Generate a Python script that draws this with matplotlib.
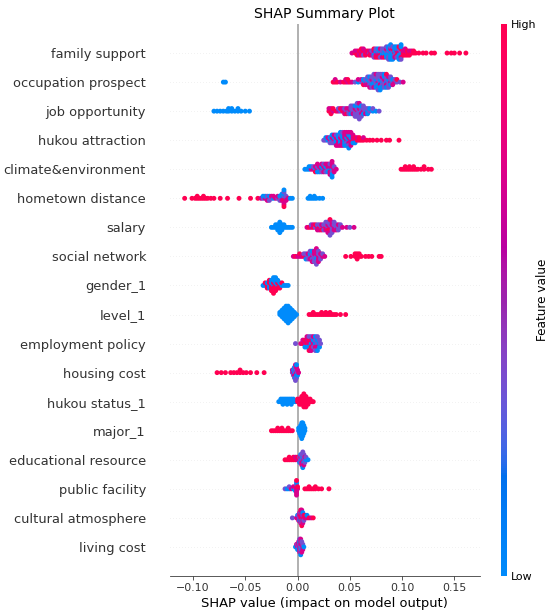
import numpy as np
import matplotlib
matplotlib.use("Agg")
import matplotlib.pyplot as plt
from matplotlib.colors import LinearSegmentedColormap
from matplotlib.cm import ScalarMappable

# ---------- DATA ----------
# features from top to bottom
features = [
    "family support", "occupation prospect", "job opportunity", "hukou attraction",
    "climate&environment", "hometown distance", "salary", "social network",
    "gender_1", "level_1", "employment policy", "housing cost", "hukou status_1",
    "major_1", "educational resource", "public facility", "cultural atmosphere",
    "living cost",
]

# (SHAP value, feature value of each sample at that value)
# b = low, p = mid-low, m = mid-high, r = high
family_support = [
    (0.052, "m"), (0.055, "rm"), (0.057, "rmr"), (0.059, "mrm"), (0.061, "rmrr"),
    (0.063, "mrpm"), (0.065, "rmr"), (0.067, "mr"), (0.069, "pmr"), (0.071, "rpm"),
    (0.073, "pmbrp"), (0.075, "pbmpr"), (0.077, "bpmbr"), (0.079, "pbrmp"),
    (0.081, "bpbpm"), (0.083, "pbbpr"), (0.085, "bpbmbp"), (0.087, "bpbbpbp"),
    (0.089, "pbbmbpbb"), (0.091, "bpbrbpb"), (0.093, "rbpbmb"), (0.095, "bmrbpb"),
    (0.097, "rmbpbrb"), (0.099, "bpbrmbpb"), (0.101, "rmr"), (0.103, "rmrm"),
    (0.105, "mrr"), (0.107, "rmr"), (0.109, "rm"), (0.111, "rr"), (0.113, "r"),
    (0.116, "r"), (0.120, "r"), (0.123, "r"), (0.128, "r"), (0.131, "r"),
    (0.143, "r"), (0.147, "r"), (0.150, "r"), (0.155, "r"), (0.161, "r"),
]
occupation_prospect = [
    (-0.071, "b"), (-0.069, "b"), (0.034, "r"), (0.036, "rm"), (0.038, "r"),
    (0.041, "m"), (0.044, "r"), (0.046, "rm"), (0.048, "mr"), (0.050, "r"),
    (0.052, "m"), (0.055, "p"), (0.058, "bm"), (0.061, "pm"), (0.063, "pbr"),
    (0.065, "bpm"), (0.067, "pbmp"), (0.069, "bppbm"), (0.071, "pmbpp"),
    (0.073, "bpbpmp"), (0.075, "pbppbm"), (0.077, "mpbpbpp"), (0.079, "pbmpbpb"),
    (0.081, "bppmbp"), (0.083, "pmpbpb"), (0.085, "bpmpbr"), (0.087, "pbpmp"),
    (0.089, "mpbp"), (0.091, "pbm"), (0.093, "mp"), (0.095, "pr"), (0.098, "p"),
    (0.101, "m"),
]
job_opportunity = [
    (-0.080, "b"), (-0.077, "b"), (-0.074, "b"), (-0.071, "b"), (-0.068, "b"),
    (-0.066, "bb"), (-0.063, "bb"), (-0.060, "b"), (-0.057, "bb"), (-0.054, "b"),
    (-0.050, "b"), (-0.046, "b"),
    (0.030, "rm"), (0.032, "rmr"), (0.034, "mr"), (0.037, "r"), (0.039, "mp"),
    (0.041, "pr"), (0.043, "rm"), (0.045, "mpm"), (0.047, "pmr"), (0.049, "pmp"),
    (0.051, "mpbp"), (0.053, "ppmp"), (0.055, "pmpbp"), (0.057, "mppbpp"),
    (0.059, "pmpbpmp"), (0.061, "ppmbp"), (0.063, "mpbp"), (0.065, "ppm"),
    (0.067, "bpb"), (0.069, "pb"), (0.072, "bp"), (0.075, "b"), (0.078, "p"),
]
hukou_attraction = [
    (0.025, "p"), (0.027, "pb"), (0.029, "bm"), (0.031, "mbp"), (0.033, "bmpb"),
    (0.035, "mbpm"), (0.037, "bmbpm"), (0.039, "mbmbm"), (0.041, "bmbpmb"),
    (0.043, "mbmbmp"), (0.045, "bmbmbm"), (0.047, "mbpmbm"), (0.049, "bmmbpmb"),
    (0.051, "mbmbmm"), (0.053, "rmbm"), (0.055, "mrb"), (0.057, "rm"), (0.059, "rr"),
    (0.061, "r"), (0.063, "rm"), (0.066, "r"), (0.069, "r"), (0.072, "r"),
    (0.076, "r"), (0.080, "r"), (0.085, "r"), (0.088, "r"), (0.097, "r"),
]
climate_environment = [
    (0.007, "b"), (0.009, "b"), (0.011, "bb"), (0.013, "mb"), (0.015, "mp"),
    (0.017, "bmr"), (0.019, "mpbm"), (0.021, "pmb"), (0.023, "mbpm"), (0.025, "bmmp"),
    (0.027, "mbpm"), (0.029, "pmbm"), (0.031, "bmmpm"), (0.033, "bmpmbmb"),
    (0.035, "mpm"), (0.037, "m"),
    (0.099, "r"), (0.101, "r"), (0.103, "rr"), (0.105, "r"), (0.107, "rr"),
    (0.109, "r"), (0.111, "rr"), (0.113, "r"), (0.115, "r"), (0.118, "r"),
    (0.121, "rr"), (0.125, "r"), (0.128, "r"),
]
hometown_distance = [
    (-0.108, "r"), (-0.101, "r"), (-0.098, "r"), (-0.096, "rr"), (-0.094, "r"),
    (-0.092, "r"), (-0.090, "rr"), (-0.088, "r"), (-0.086, "r"), (-0.083, "r"),
    (-0.080, "r"), (-0.074, "r"), (-0.067, "r"), (-0.056, "r"), (-0.045, "r"),
    (-0.038, "r"), (-0.035, "m"), (-0.033, "pb"), (-0.031, "mb"), (-0.029, "bpm"),
    (-0.027, "mbp"), (-0.025, "pm"), (-0.023, "bm"), (-0.021, "m"), (-0.019, "pm"),
    (-0.017, "mbp"), (-0.015, "pbmb"), (-0.013, "mprbmpmbr"), (-0.011, "bpm"),
    (-0.009, "m"), (-0.007, "b"), (-0.005, "b"),
    (0.010, "b"), (0.012, "bb"), (0.014, "b"), (0.016, "bb"), (0.018, "b"),
    (0.021, "b"), (0.024, "b"),
]
salary = [
    (-0.025, "b"), (-0.023, "b"), (-0.021, "bb"), (-0.019, "bbb"), (-0.017, "bbbbb"),
    (-0.015, "bbb"), (-0.013, "bb"), (-0.011, "b"), (-0.009, "b"), (-0.007, "b"),
    (-0.005, "b"),
    (0.009, "m"), (0.011, "r"), (0.013, "mp"), (0.015, "rm"), (0.017, "pr"),
    (0.019, "mpm"), (0.021, "rpm"), (0.023, "pmr"), (0.025, "mpp"), (0.027, "rpmp"),
    (0.029, "pmrpm"), (0.031, "mprpmrp"), (0.033, "pmpmp"), (0.035, "mpmp"),
    (0.037, "ppm"), (0.039, "pmp"), (0.041, "pp"), (0.043, "m"), (0.047, "m"),
    (0.050, "p"), (0.054, "m"),
]
social_network = [
    (-0.004, "m"), (-0.002, "r"), (0.000, "m"), (0.002, "mr"), (0.004, "m"),
    (0.006, "rp"), (0.008, "mpb"), (0.010, "pmp"), (0.012, "pbmp"), (0.014, "mppbm"),
    (0.016, "pmpmp"), (0.018, "pmbmpmp"), (0.020, "mpmpm"), (0.022, "pmp"),
    (0.024, "mp"), (0.026, "m"),
    (0.046, "r"), (0.051, "r"), (0.055, "rr"), (0.057, "rrr"), (0.059, "rr"),
    (0.061, "r"), (0.065, "r"), (0.068, "r"), (0.071, "r"), (0.078, "r"), (0.080, "r"),
]
gender_1 = [
    (-0.033, "b"), (-0.031, "br"), (-0.029, "rbr"), (-0.027, "brbr"), (-0.025, "rbrbr"),
    (-0.023, "brrbrbr"), (-0.021, "rbrbrb"), (-0.019, "brrb"), (-0.017, "rbr"),
    (-0.015, "br"), (-0.013, "b"), (-0.011, "b"), (-0.009, "b"),
]
level_1 = [
    (-0.017, "bb"), (-0.015, "bbbb"), (-0.013, "bbbbbb"), (-0.011, "bbbbbbbb"),
    (-0.009, "bbbbbbbbb"), (-0.007, "bbbbbbb"), (-0.005, "bbbbb"), (-0.003, "bbb"),
    (-0.001, "b"),
    (0.011, "r"), (0.013, "r"), (0.015, "rr"), (0.017, "r"), (0.019, "r"),
    (0.021, "r"), (0.023, "rr"), (0.025, "r"), (0.027, "rr"), (0.029, "r"),
    (0.031, "rr"), (0.033, "r"), (0.035, "r"), (0.037, "r"), (0.041, "r"), (0.046, "r"),
]
employment_policy = [
    (-0.002, "p"), (0.003, "m"), (0.005, "rm"), (0.007, "mrb"), (0.009, "rmbm"),
    (0.011, "mrbpr"), (0.013, "bmrpm"), (0.015, "mbpm"), (0.017, "bpmbp"),
    (0.019, "pbmpb"), (0.021, "bpb"), (0.022, "p"),
]
housing_cost = [
    (-0.077, "r"), (-0.073, "r"), (-0.069, "r"), (-0.064, "r"), (-0.061, "r"),
    (-0.058, "r"), (-0.055, "rr"), (-0.052, "r"), (-0.049, "r"), (-0.045, "r"),
    (-0.039, "r"), (-0.032, "r"),
    (-0.005, "pm"), (-0.004, "mbp"), (-0.003, "bpmbp"), (-0.002, "pbmpbmp"),
    (-0.001, "mpbmpb"), (0.000, "pmb"), (0.001, "m"),
]
hukou_status_1 = [
    (-0.018, "b"), (-0.016, "bb"), (-0.014, "bbb"), (-0.012, "bb"), (-0.010, "bbb"),
    (-0.008, "bb"), (-0.006, "bbb"), (-0.004, "bb"), (-0.002, "b"),
    (0.000, "rr"), (0.002, "rrr"), (0.004, "rrrr"), (0.006, "rrrrrr"),
    (0.008, "rrrrr"), (0.010, "rrr"), (0.012, "rr"), (0.014, "r"), (0.015, "r"),
]
major_1 = [
    (-0.025, "r"), (-0.023, "r"), (-0.021, "r"), (-0.019, "rr"), (-0.017, "r"),
    (-0.015, "rr"), (-0.013, "r"), (-0.011, "r"), (-0.009, "rr"), (-0.007, "r"),
    (-0.005, "r"),
    (0.001, "bb"), (0.002, "bbb"), (0.003, "bbbbb"), (0.004, "bbbbbbb"),
    (0.005, "bbbbbb"), (0.006, "bbbb"), (0.007, "bb"),
]
educational_resource = [
    (-0.012, "r"), (-0.010, "r"), (-0.008, "rr"), (-0.006, "r"), (-0.004, "rr"),
    (-0.002, "rm"), (0.000, "mr"), (0.002, "mpb"), (0.003, "pmpb"), (0.004, "bpmpm"),
    (0.005, "pbmpmpb"), (0.006, "mpbpm"), (0.007, "pmp"), (0.008, "bp"), (0.010, "b"),
]
public_facility = [
    (-0.012, "p"), (-0.010, "b"), (-0.008, "bp"), (-0.006, "m"), (-0.004, "bm"),
    (-0.002, "pmb"), (-0.001, "mrmpmbmr"), (0.000, "mr"),
    (0.007, "r"), (0.009, "r"), (0.011, "rr"), (0.013, "r"), (0.015, "r"),
    (0.017, "rr"), (0.020, "r"), (0.023, "r"), (0.030, "r"),
]
cultural_atmosphere = [
    (-0.005, "p"), (-0.001, "m"), (0.000, "mb"), (0.001, "mpm"), (0.002, "pmbm"),
    (0.003, "mrmpmr"), (0.004, "rmbmpmr"), (0.005, "mpmbm"), (0.006, "rmp"),
    (0.007, "mr"), (0.009, "mb"), (0.011, "r"), (0.013, "m"), (0.015, "r"),
]
living_cost = [
    (-0.002, "b"), (-0.001, "bm"), (0.000, "mpb"), (0.001, "pmbm"), (0.002, "mpmbmp"),
    (0.003, "bmpmpmb"), (0.004, "pmbpm"), (0.005, "mpm"), (0.006, "b"),
]

rows = [
    family_support, occupation_prospect, job_opportunity, hukou_attraction,
    climate_environment, hometown_distance, salary, social_network, gender_1,
    level_1, employment_policy, housing_cost, hukou_status_1, major_1,
    educational_resource, public_facility, cultural_atmosphere, living_cost,
]

feature_level = {"b": 0.0, "p": 0.35, "m": 0.72, "r": 1.0}


# ---------- SHAP red_blue COLORMAP ----------

def lch2rgb(l, c, h):
    a, b = c * np.cos(h), c * np.sin(h)
    fy = (l + 16) / 116
    fx, fz = fy + a / 500, fy - b / 200
    finv = lambda t: t ** 3 if t > 6 / 29 else 3 * (6 / 29) ** 2 * (t - 4 / 29)
    xyz = np.array([0.95047 * finv(fx), finv(fy), 1.08883 * finv(fz)])
    m = np.array([[3.2406, -1.5372, -0.4986],
                  [-0.9689, 1.8758, 0.0415],
                  [0.0557, -0.2040, 1.0570]])
    rgb = m @ xyz
    rgb = np.where(rgb > 0.0031308, 1.055 * np.abs(rgb) ** (1 / 2.4) - 0.055, 12.92 * rgb)
    return np.clip(rgb, 0, 1)


nsteps = 100
l_vals = list(np.linspace(54, 40, nsteps // 2)) + list(np.linspace(40, 54, nsteps // 2))
c_vals = np.linspace(70, 90, nsteps)
h_vals = np.linspace(4.6588, 0.35470565 + 2 * np.pi, nsteps)
red_blue = LinearSegmentedColormap.from_list(
    "red_blue", [lch2rgb(l, c, h) for l, c, h in zip(l_vals, c_vals, h_vals)])


# ---------- BEESWARM OFFSETS (same binning as shap) ----------

def swarm_offsets(shaps, nbins=100, row_height=0.4):
    quant = np.round(nbins * (shaps - shaps.min()) / (shaps.max() - shaps.min() + 1e-8))
    inds = np.argsort(quant, kind="stable")
    ys = np.zeros(len(shaps))
    layer, last_bin = 0, -1
    for ind in inds:
        if quant[ind] != last_bin:
            layer = 0
        ys[ind] = np.ceil(layer / 2) * ((layer % 2) * 2 - 1)
        layer += 1
        last_bin = quant[ind]
    ys *= 0.9 * (row_height / np.max(ys + 1))
    return ys


# ---------- PLOT ----------

fig = plt.figure(figsize=(550 / 72, 616 / 72), dpi=72)
ax = fig.add_axes([169.5 / 550, 40 / 616, 310.5 / 550, 552 / 616])

n = len(features)
ax.axvline(x=0, color="#999999", zorder=-1)
for i, row in enumerate(rows):
    pos = n - 1 - i
    ax.axhline(y=pos, color="#cccccc", lw=0.5, dashes=(1, 5), zorder=-1)
    shaps = np.array([x for x, s in row for _ in s])
    vals = np.array([feature_level[ch] for _, s in row for ch in s])
    ys = swarm_offsets(shaps)
    ax.scatter(shaps, pos + ys, c=vals, cmap=red_blue, vmin=0, vmax=1,
               s=24, alpha=1, linewidth=0, zorder=3, rasterized=True)

axis_color = "#333333"
ax.set_xlim(-0.1225, 0.1745)
ax.set_ylim(-1, n)
ax.set_yticks(range(n))
ax.set_yticklabels(features[::-1], fontsize=13)
ax.xaxis.set_ticks_position("bottom")
ax.yaxis.set_ticks_position("none")
ax.tick_params("y", length=20, width=0.5, which="major")
ax.tick_params(color=axis_color, labelcolor=axis_color)
ax.tick_params("x", labelsize=11)
for side in ["right", "top", "left"]:
    ax.spines[side].set_visible(False)
ax.spines["bottom"].set_color(axis_color)
ax.set_xlabel("SHAP value (impact on model output)", fontsize=13)
ax.set_title("SHAP Summary Plot", fontsize=14)

cax = fig.add_axes([501 / 550, 40 / 616, 6 / 550, 552 / 616])
sm = ScalarMappable(cmap=red_blue)
sm.set_array([0, 1])
cb = fig.colorbar(sm, cax=cax, ticks=[0, 1])
cb.set_ticklabels(["Low", "High"])
cb.set_label("Feature value", size=12, labelpad=0)
cb.ax.tick_params(labelsize=11, length=0)
cb.outline.set_visible(False)

fig.savefig("out.png", dpi=72)
